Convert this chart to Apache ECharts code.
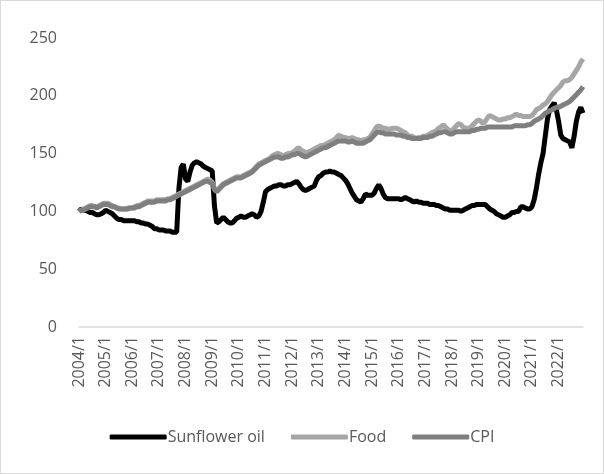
<!DOCTYPE html>
<html>
<head>
<meta charset="utf-8">
<script src="https://cdn.jsdelivr.net/npm/echarts@6/dist/echarts.min.js"></script>
<style>
html,body{margin:0;padding:0;background:#fff;}
#frame{position:absolute;left:0;top:0;width:602px;height:472px;border:1px solid #d9d9d9;}
#chart{width:604px;height:474px;position:absolute;left:0;top:0;}
</style>
</head>
<body>
<div id="frame"></div>
<div id="chart"></div>
<script>
// Monthly categories 2004/1 .. 2022/12
const years = [2004,2005,2006,2007,2008,2009,2010,2011,2012,2013,2014,2015,2016,2017,2018,2019,2020,2021,2022];
const categories = [];
years.forEach(y => { for (let m = 1; m <= 12; m++) categories.push(y + '/' + m); });

const sunflowerOil = [
  100,102,101,101,100,99,99,98,97,97,98,99,
  101,100,99,98,96,94,93,93,92,92,92,92,
  92,92,91,91,90,90,89,89,88,87,85,85,
  84,84,84,83,83,83,82,82,82,120,138,141,
  128,126,134,140,142,143,142,141,139,138,137,136,
  135,105,90,91,93,95,93,91,90,90,92,94,
  95,96,95,95,96,97,98,97,95,96,100,108,
  117,119,120,121,122,122,123,123,122,122,123,123,
  124,125,126,124,121,119,118,119,120,121,122,127,
  130,131,133,134,134,135,134,134,133,132,131,129,
  127,124,120,116,113,110,109,108,111,115,114,114,
  114,116,120,123,120,115,112,111,111,111,111,111,
  111,110,111,112,111,110,109,108,109,108,108,107,
  107,107,106,106,106,105,105,104,103,102,102,101,
  101,101,101,101,100,101,102,103,104,105,105,106,
  106,106,106,106,104,102,101,100,98,97,96,95,
  95,96,97,99,99,100,100,104,104,103,102,102,
  104,110,120,132,142,150,165,180,188,191,194,188,
  178,166,163,162,161,160,155,165,178,186,190,185
];

const food = [
  100,101,102,103,104,105,105,104,104,105,106,107,
  107,107,106,105,104,103,103,102,102,102,103,103,
  103,104,105,105,106,107,108,109,109,109,109,110,
  110,110,110,110,111,111,112,113,114,115,116,117,
  118,119,120,121,122,123,124,125,126,127,128,127,
  125,120,117,120,122,124,125,126,127,128,129,130,
  130,130,131,132,133,134,135,137,139,141,142,143,
  144,145,146,148,149,150,150,149,148,149,150,150,
  151,152,154,155,153,152,151,151,152,153,154,155,
  156,157,157,158,159,160,161,162,164,166,165,164,
  164,163,163,164,163,162,162,161,162,162,163,164,
  167,170,173,174,173,172,172,171,171,172,172,172,
  171,170,169,168,166,165,165,164,163,164,164,165,
  165,166,167,168,169,170,172,173,175,173,171,170,
  170,172,174,176,175,173,172,172,172,174,176,178,
  179,178,176,178,181,183,182,181,180,179,179,180,
  180,181,181,182,183,184,183,183,182,182,182,182,
  183,185,188,189,190,192,193,195,198,201,203,205,
  207,209,212,213,213,214,216,219,222,225,229,232
];

const cpi = [
  100,101,101,102,103,104,104,104,103,104,105,106,
  106,106,105,104,104,103,102,102,102,102,102,103,
  103,103,104,104,105,106,107,108,108,108,108,109,
  109,109,109,109,110,110,111,112,113,114,115,116,
  117,118,119,120,121,122,123,124,125,126,126,125,
  124,119,117,119,121,123,124,125,126,127,128,129,
  129,129,130,131,132,133,134,136,138,140,141,142,
  143,144,145,146,147,147,147,146,146,147,147,148,
  149,149,150,150,149,148,147,148,149,150,151,152,
  153,154,155,155,156,157,158,159,160,161,161,161,
  161,160,160,161,160,159,159,159,159,160,161,162,
  164,166,168,169,168,168,167,167,167,167,167,166,
  166,166,165,165,164,164,163,163,163,163,163,164,
  164,164,165,165,166,167,168,168,169,169,168,167,
  167,168,169,169,169,169,169,169,169,170,170,171,
  171,172,172,172,173,173,173,173,173,173,173,173,
  173,173,173,173,174,174,174,174,174,174,175,175,
  176,178,179,180,181,183,185,186,187,188,189,190,
  190,191,192,193,194,195,197,199,201,203,205,208
];

const yTicks = [0, 50, 100, 150, 200, 250];

const FONT = 'Open Sans';
const chart = echarts.init(document.getElementById('chart'), null, {renderer: 'canvas'});
chart.setOption({
  animation: false,
  backgroundColor: 'transparent',
  grid: {left: 79, right: 21, top: 38, bottom: 147, containLabel: false},
  legend: {
    bottom: 24,
    left: 'center',
    itemWidth: 57,
    itemHeight: 5,
    itemGap: 26,
    textStyle: {color: '#595959', fontSize: 16, fontFamily: FONT, padding: [0, 0, 0, -4]},
    data: [
      {name: 'Sunflower oil', icon: 'roundRect'},
      {name: 'Food', icon: 'roundRect'},
      {name: 'CPI', icon: 'roundRect'}
    ]
  },
  xAxis: {
    type: 'category',
    data: categories,
    boundaryGap: false,
    axisLine: {lineStyle: {color: '#d9d9d9', width: 1.5}},
    axisTick: {show: false},
    axisLabel: {
      rotate: 90,
      interval: 11,
      margin: 9,
      color: '#595959',
      fontSize: 16,
      fontFamily: FONT
    },
    splitLine: {show: false}
  },
  yAxis: {
    type: 'value',
    min: yTicks[0],
    max: yTicks[yTicks.length - 1],
    interval: 50,
    axisLine: {show: false},
    axisTick: {show: false},
    axisLabel: {color: '#595959', fontSize: 16, fontFamily: FONT, margin: 22},
    splitLine: {show: false}
  },
  series: [
    {name: 'Sunflower oil', type: 'line', data: sunflowerOil, symbol: 'none',
     lineStyle: {color: '#000000', width: 5}, itemStyle: {color: '#000000'}},
    {name: 'Food', type: 'line', data: food, symbol: 'none',
     lineStyle: {color: '#a6a6a6', width: 5}, itemStyle: {color: '#a6a6a6'}},
    {name: 'CPI', type: 'line', data: cpi, symbol: 'none',
     lineStyle: {color: '#7f7f7f', width: 5}, itemStyle: {color: '#7f7f7f'}}
  ]
});
</script>
</body>
</html>
